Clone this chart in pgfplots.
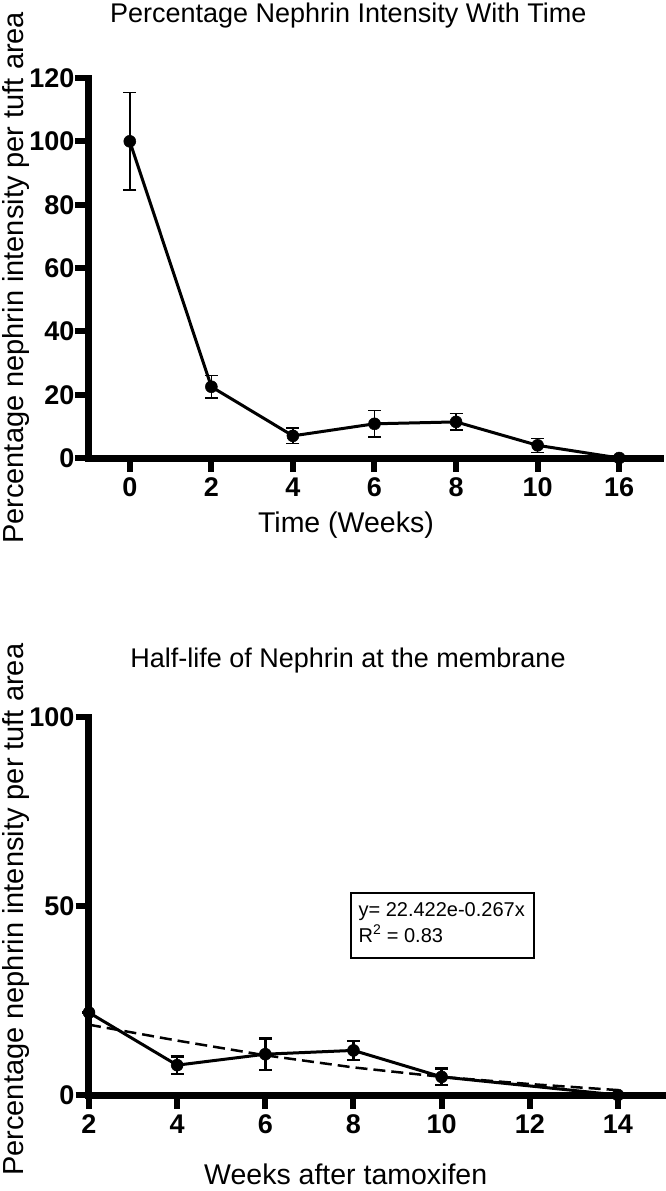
\documentclass[border=0pt]{standalone}
\usepackage{fontspec}
\setmainfont{Liberation Sans}
\usepackage{pgfplots}
\pgfplotsset{compat=1.18}
\usepackage{pgfplotstable}

\pgfplotstableread{
x  y     e
0  100.0 15.4
1  22.5  3.5
2  7.0   2.4
3  10.8  4.2
4  11.4  2.6
5  4.0   2.2
6  0.0   0.0
}\toptable

\pgfplotstableread{
x  y     e
2  21.8  0.0
4  7.9   2.3
6  10.8  4.2
8  11.8  2.5
10 4.8   2.2
14 0.0   0.0
}\bottable

\pgfplotstableread{
x  y
2  18.6
4  14.4
6  10.5
8  7.3
10 4.8
12 2.9
14 1.3
}\fittable

\pgfplotsset{
  myaxis/.style={
    scale only axis,
    axis x line=bottom, axis y line=left,
    axis line style={line width=7pt, -, line cap=rect},
    tick align=outside,
    major tick length=13.5pt,
    every tick/.style={black, line width=6pt},
    ticklabel style={font=\bfseries\fontsize{27}{27}\selectfont},
    /pgf/number format/assume math mode=true,
    yticklabel style={inner sep=0pt, xshift=-1pt, text height=19pt, text depth=0pt},
    xticklabel style={inner sep=0pt, yshift=-6pt, text height=19pt, text depth=0pt},
    every axis title shift=0pt,
    title style={font=\fontsize{27}{27}\selectfont},
    xlabel style={font=\fontsize{28.5}{28.5}\selectfont},
    ylabel style={font=\fontsize{29}{29}\selectfont},
    clip=false,
  },
  mydata/.style={
    black, line width=3pt, mark=*, mark size=6pt,
    mark options={solid, fill=black, line width=0.5pt},
    error bars/.cd, y dir=both, y explicit,
    error bar style={line width=#1, black},
    error mark options={rotate=90, mark size=6.5pt, line width=#1, black},
  },
}

\begin{document}
\begin{tikzpicture}
\useasboundingbox (0,0) rectangle (666pt,-1191pt);

\begin{axis}[myaxis,
  at={(89pt,-458pt)}, anchor=south west,
  width=571pt, height=380pt,
  xmin=-0.5, xmax=6.5, ymin=0, ymax=120,
  xtick={0,1,2,3,4,5,6},
  xticklabels={0,2,4,6,8,10,16},
  ytick={0,20,40,60,80,100,120},
  title={Percentage Nephrin Intensity With Time},
  title style={at={(axis description cs:0.454,1.145)}, anchor=base, yshift=0pt},
  xlabel={Time (Weeks)},
  xlabel style={at={(axis description cs:0.45,-0.197)}, anchor=base},
  ylabel={Percentage nephrin intensity per tuft area},
  ylabel style={at={(axis description cs:-0.128,0.474)}, anchor=center},
]
\addplot+[mydata=1.6pt] table[x=x, y=y, y error=e] {\toptable};
\end{axis}

\begin{axis}[myaxis,
  at={(89pt,-1095pt)}, anchor=south west,
  width=573pt, height=378pt,
  xmin=2, xmax=15, ymin=0, ymax=100,
  xtick={2,4,6,8,10,12,14},
  ytick={0,50,100},
  title={Half-life of Nephrin at the membrane},
  title style={at={(axis description cs:0.452,1.13)}, anchor=base, yshift=0pt},
  xlabel={Weeks after tamoxifen},
  xlabel style={at={(axis description cs:0.448,-0.238)}, anchor=base},
  ylabel={Percentage nephrin intensity per tuft area},
  ylabel style={at={(axis description cs:-0.128,0.49)}, anchor=center},
]
\addplot[black, line width=2.5pt, dash pattern=on 12pt off 6pt] table[x=x, y=y] {\fittable};
\addplot+[mydata=2.5pt] table[x=x, y=y, y error=e] {\bottable};
\node[draw=black, line width=1.5pt, anchor=north west, minimum width=183pt, minimum height=65pt,
      inner sep=0pt] (box) at (axis cs:7.93,53.7) {};
\node[anchor=north west, align=left, font=\fontsize{20}{26}\selectfont, inner sep=0pt]
  at ([xshift=8pt,yshift=-10pt]box.north west) {y= 22.422e-0.267x\\R\textsuperscript{2} = 0.83};
\end{axis}
\end{tikzpicture}
\end{document}
